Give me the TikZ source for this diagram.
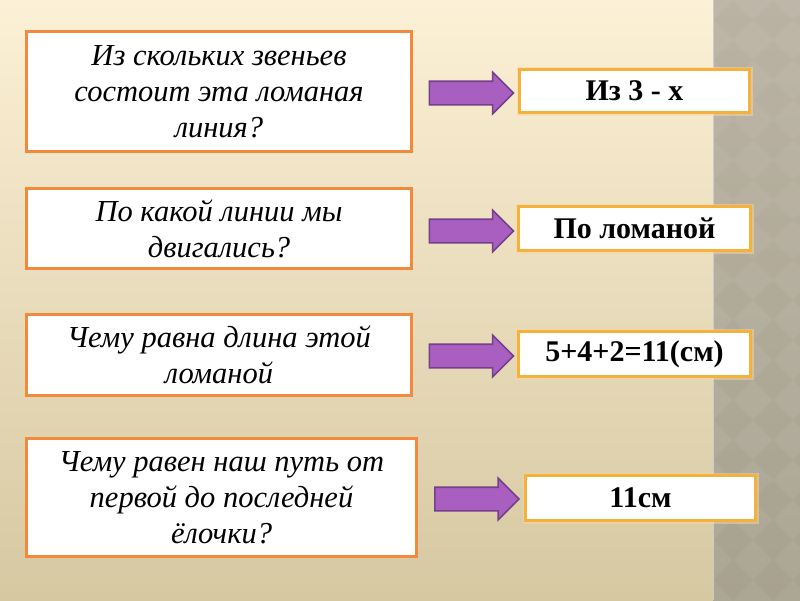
\documentclass[tikz,border=0pt]{standalone}
\usepackage{fontspec}
\setmainfont{Liberation Serif}
\usetikzlibrary{shapes.arrows}
\definecolor{bgtop}{HTML}{FCF0D6}
\definecolor{bgbot}{HTML}{D6C8A1}
\definecolor{striptop}{HTML}{BAB3A4}
\definecolor{stripbot}{HTML}{A7A18E}
\definecolor{qborder}{HTML}{F28A3E}
\definecolor{aborder}{HTML}{F5B13E}
\definecolor{arrfill}{HTML}{A85FC0}
\definecolor{arrdraw}{HTML}{74408C}
\begin{document}
\begin{tikzpicture}[x=1pt,y=-1pt,
 qbox/.style={draw=qborder, line width=3pt, fill=white, align=center,
   font=\fontsize{30.5}{36}\selectfont\itshape, inner sep=0pt},
 abox/.style={draw=aborder, line width=3pt, fill=white,
   font=\fontsize{30}{34}\selectfont\bfseries, inner sep=0pt,
   preaction={draw=aborder!50, line width=6pt, opacity=0.5}},
 barrow/.style={single arrow, single arrow head extend=9pt, fill=arrfill,
   draw=arrdraw, line width=1.6pt, inner xsep=0pt, inner ysep=11pt,
   minimum height=84pt, minimum width=40pt}]
\useasboundingbox (0,0) rectangle (800,600);
% background
\shade[top color=bgtop, bottom color=bgbot] (0,0) rectangle (713,600);
\shade[top color=striptop, bottom color=stripbot] (713,0) rectangle (800,600);
\begin{scope}
\clip (713,0) rectangle (800,600);
\foreach \i in {0,...,3} \foreach \j in {0,...,15} {
  \fill[white,opacity=0.06] (713+\i*40-20, \j*40) -- ++(20,20) -- ++(20,-20) -- ++(-20,-20) -- cycle;
}
\end{scope}
\draw[black!20, line width=1pt] (713,0) -- (713,600);
% question boxes
\node[qbox, minimum width=385, minimum height=120] (q1) at (219,91.5)
  {Из скольких звеньев\\состоит эта ломаная\\линия?};
\node[qbox, minimum width=385, minimum height=80] (q2) at (219,228.5)
  {По какой линии мы\\двигались?};
\node[qbox, minimum width=385, minimum height=81] (q3) at (219,355)
  {Чему равна длина этой\\ломаной};
\node[qbox, minimum width=390, minimum height=118] (q4) at (221.5,497.5)
  {Чему равен наш путь от\\первой до последней\\ёлочки?};
% arrows
\node[barrow] (r1) at (465.5,93) {};
\node[barrow] (r2) at (465.5,231) {};
\node[barrow] (r3) at (465.5,356) {};
\node[barrow] (r4) at (471,499) {};
% answer boxes
\node[abox, minimum width=230, minimum height=43] (a1) at (634.5,91) {Из 3 - х};
\node[abox, minimum width=232, minimum height=44] (a2) at (634.5,228.5) {По ломаной};
\node[abox, minimum width=232, minimum height=45] (a3) at (634.5,354) {5+4+2=11(см)};
\node[abox, minimum width=230, minimum height=45] (a4) at (640.5,498) {11см};
\end{tikzpicture}
\end{document}
